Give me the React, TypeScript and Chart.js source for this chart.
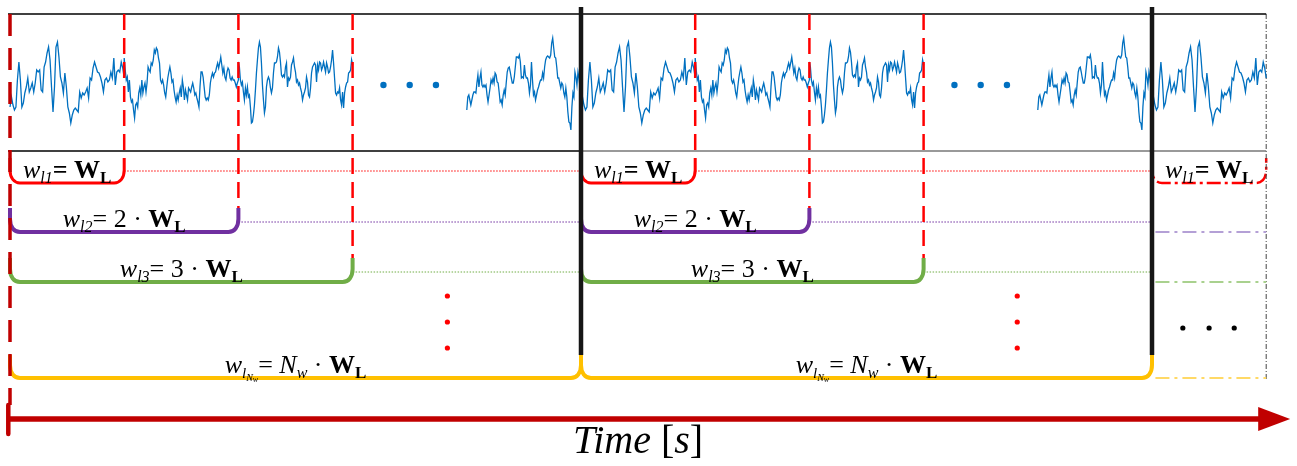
import React, { useEffect, useRef } from 'react';
import { Chart, registerables } from 'chart.js';

Chart.register(...registerables);

// ---------------- data ----------------
// Signal samples inside one analysis window (arbitrary amplitude units)
const WINDOW_1 = [-19, -9, -17, -22, -19, 8, 26, 8, -19, -15, -5, 1, 10, -4, 0, 5, -4, 5, 18, 16, 18, -2, -4, 21, 26, 35, 41, 28, 1, -24, 1, 41, 46, 31, 11, 5, -5, 15, 1, -19, -25, -35, -27, -22, -20, -22, -24, -4, -10, -5, -7, -4, 0, -10, 10, 8, 20, 26, 21, 16, 15, 11, 5, -4, 8, 10, 6, 8, 16, 10, 30, 3, 16, 18, 16, 26, 20, 10];
const WINDOW_2 = [30, 18, 8, 11, -4, 8, -9, -14, -12, -22, -30, -17, -15, -19, -5, 0, -7, 8, -5, 1, 5, -4, 5, 21, 18, 16, 25, 23, 28, 38, 35, 40, 38, 30, 25, 8, 5, 8, 3, -5, -9, 1, 10, 16, 21, 15, 6, 8, -2, -9, -14, -7, -12, -5, 0, -9, 8, 1, -12, -2, -7, -12, 0, -2, -4, 1, 5, 0, -7, -5, -10, -14, -19, 1, 16, 16, 11, 1, -9, -12, -10, -12, -7, 5, 11, 15, 11, 15, 16, 21, 25, 20, 25, 31, 23, 15, 20, 11, 8, 16, 20, 18, 10, 8, 11, 8, 8, 5, 1, 5, 8];
const WINDOW_3 = [26, 21, 8, 3, 6, -4, -12, 0, -7, 1, -9, -7, -19, -35, -34, -27, -17, -2, 15, 28, 40, 46, 41, 25, 3, -12, -25, -19, 1, 8, 11, 8, 0, -5, 0, 15, 25, 25, 26, 31, 40, 36, 26, 13, 11, 13, 11, 21, 25, 1, 10, 8, 11, 23, 26, 30, 21, 16, 6, 8, 3, 5, 0, -4, -12, -7, -4, 0, 11, 6, -7, -9, 0, 15, 21, 23, 25, 23, 6, 23, 18, 26, 25, 18, 21, 26, 21, 16, 25, 21, 15, 16, 21, 28, 38, 25, 10, -5, -7, -4, -5, 0, -12, -17, -4, -20, -5, 1, 5, 6, 15, 16, 18, 28, 23];
const WINDOW_LAST = [-22, -9, -7, -12, -17, -12, -7, -4, -4, -5, 5, 13, 1, 10, 16, 3, 1, 3, 1, 3, -7, -14, -7, 0, 8, 5, 10, 5, 15, 13, 6, 5, -4, -14, -12, -17, -7, -2, -7, 5, 16, 20, 21, 16, 10, 5, 5, 11, 21, 31, 31, 30, 33, 26, 10, 11, 10, 23, 13, 10, 10, 5, -5, 3, 26, 8, -7, -4, -12, -7, -2, 1, 5, 8, 8, 15, 10, 21, 28, 31, 32, 31, 30, 33, 45, 50, 40, 31, 30, 21, 10, 10, 5, 0, 5, 3, -5, -9, 0, -9, -24, -34, -35, -42, -19, -5, -9, 16, 11, 3, 16, 10, 1, -2];

// Time (in multiples of W_L) where each drawn signal window starts
const SEGMENT_STARTS = [0, 1, 2, 4, 5, 6, 7, 9, 10];
const SEGMENT_SIGNALS = [WINDOW_1, WINDOW_2, WINDOW_3, WINDOW_LAST, WINDOW_1, WINDOW_2, WINDOW_3, WINDOW_LAST, WINDOW_1];

const BLOCK_STARTS = [0, 5];
const N_W = 5;
const WINDOW_MULTIPLES = [1, 2, 3, N_W];
const WINDOW_SUBSCRIPTS = ['l1', 'l2', 'l3', 'lNw'];
const WINDOW_FACTORS = ['', '2', '3', 'Nw'];
const PARTIAL_START = 10;
const TIME_END = 11;
const SIGNAL_SKIP_DOTS = [3.27, 3.5, 3.73, 8.27, 8.5, 8.73];
const MORE_WINDOWS_DOTS = [3.83, 8.82];
const MORE_BLOCKS_DOTS = [10.27, 10.5, 10.72];
const AXIS_LABEL = 'Time';
const AXIS_UNIT = 's';

// ---------------- layout / style ----------------
const WIDTH = 1297;
const HEIGHT = 466;
const PX_ORIGIN = 10;
const PX_PER_WINDOW = 114.2;
const X_MIN = -PX_ORIGIN / PX_PER_WINDOW;
const X_MAX = (WIDTH - PX_ORIGIN) / PX_PER_WINDOW;
const SIGNAL_MID_ROW = 88;

const ROWS = {
  frameTop: 14,
  frameBottom: 151,
  barTop: 7,
  dots: 85,
  bracketTop: [158, 208, 258, 355],
  bracketBottom: [183, 232, 282, 378],
  guide: [171, 222, 272],
  vDots: [296, 322, 348],
  hDots: 328,
  arrow: 419,
  tickTop: 405,
  tickBottom: 434,
  label: 453,
  borderBottom: 380,
};
const ARROW = { start: -0.015, shaftEnd: 10.95, base: 10.93, tip: 11.21, half: 12 };
const COLORS = ['#FF0000', '#7030A0', '#70AD47', '#FFC000'];
const LIGHT = ['#FF0000', '#B4A0D6', '#A9D18E', '#FFD966'];
const WIDTHS = [3, 4, 4, 4];
const DARK_RED = '#C00000';
const SERIF = '"Liberation Serif", "Times New Roman", serif';
const it = (s: number) => `italic ${s}px ${SERIF}`;
const rg = (s: number) => `${s}px ${SERIF}`;
const bd = (s: number) => `bold ${s}px ${SERIF}`;

type Run = { t: string; f: string; dy?: number; w?: number };

function seg(x0: number, y0: number, x1: number, y1: number, color: string, width: number, dash: number[] = [], order = 1, cap: CanvasLineCap = 'butt') {
  return {
    type: 'line' as const,
    data: [{ x: x0, y: y0 }, { x: x1, y: y1 }],
    yAxisID: 'yRow',
    borderColor: color,
    borderWidth: width,
    borderDash: dash,
    borderCapStyle: cap,
    pointRadius: 0,
    fill: false,
    tension: 0,
    order,
    clip: false as any,
  };
}

function dots(ts: number[], rows: number[], color: string, r: number, order = 2) {
  const data: { x: number; y: number }[] = [];
  ts.forEach((t) => rows.forEach((y) => data.push({ x: t, y })));
  return {
    type: 'line' as const,
    data,
    yAxisID: 'yRow',
    showLine: false,
    pointRadius: r,
    pointBackgroundColor: color,
    pointBorderColor: color,
    pointBorderWidth: 0,
    order,
  };
}

function labelRuns(idx: number): Run[] {
  const sub = WINDOW_SUBSCRIPTS[idx];
  const factor = WINDOW_FACTORS[idx];
  const runs: Run[] = [{ t: 'w', f: it(26) }];
  if (sub === 'lNw') {
    runs.push({ t: 'l', f: it(15), dy: 5 }, { t: 'N', f: it(10), dy: 8 }, { t: 'w', f: it(8), dy: 9 });
  } else {
    runs.push({ t: sub, f: it(16), dy: 5 });
  }
  runs.push({ t: '=', f: idx === 0 ? bd(26) : rg(26) }, { t: ' ', f: rg(26) });
  if (factor === 'Nw') {
    runs.push({ t: 'N', f: it(26) }, { t: 'w', f: it(16), dy: 5 }, { t: ' · ', f: rg(26) });
  } else if (factor) {
    runs.push({ t: factor + ' · ', f: rg(26) });
  }
  runs.push({ t: 'W', f: bd(26) }, { t: 'L', f: bd(17), dy: 5 });
  return runs;
}

function drawRuns(ctx: CanvasRenderingContext2D, runs: Run[], cx: number, baseline: number, color: string) {
  let total = 0;
  runs.forEach((r) => {
    ctx.font = r.f;
    r.w = ctx.measureText(r.t).width;
    total += r.w;
  });
  let x = cx - total / 2;
  ctx.fillStyle = color;
  ctx.textAlign = 'left';
  ctx.textBaseline = 'alphabetic';
  runs.forEach((r) => {
    ctx.font = r.f;
    ctx.fillText(r.t, x, baseline + (r.dy || 0));
    x += r.w || 0;
  });
}

function drawBracket(ctx: CanvasRenderingContext2D, x0: number, x1: number, top: number, bottom: number, color: string, width: number, dash: number[]) {
  const rx = 10;
  const ry = 13;
  ctx.beginPath();
  ctx.moveTo(x0, top);
  ctx.lineTo(x0, bottom - ry);
  ctx.bezierCurveTo(x0, bottom - ry * 0.4, x0 + rx * 0.4, bottom, x0 + rx, bottom);
  ctx.lineTo(x1 - rx, bottom);
  ctx.bezierCurveTo(x1 - rx * 0.4, bottom, x1, bottom - ry * 0.4, x1, bottom - ry);
  ctx.lineTo(x1, top);
  ctx.strokeStyle = color;
  ctx.lineWidth = width;
  ctx.setLineDash(dash);
  ctx.lineJoin = 'round';
  ctx.lineCap = 'butt';
  ctx.stroke();
  ctx.setLineDash([]);
}

type Bracket = { t0: number; t1: number; idx: number; dash: number[] };
const BRACKETS: Bracket[] = [];
BLOCK_STARTS.forEach((b) => WINDOW_MULTIPLES.forEach((k, idx) => BRACKETS.push({ t0: b, t1: b + k, idx, dash: [] })));
BRACKETS.push({ t0: PARTIAL_START, t1: TIME_END, idx: 0, dash: [14, 4, 3, 4] });

const overlay = {
  id: 'diagramOverlay',
  beforeDatasetsDraw(chart: any) {
    const ctx: CanvasRenderingContext2D = chart.ctx;
    const X = (t: number) => chart.scales.x.getPixelForValue(t);
    const Y = (r: number) => chart.scales.yRow.getPixelForValue(r);
    ctx.save();
    BRACKETS.forEach((b) => {
      drawBracket(ctx, X(b.t0), X(b.t1), Y(ROWS.bracketTop[b.idx]), Y(ROWS.bracketBottom[b.idx]), COLORS[b.idx], b.dash.length ? 2.5 : WIDTHS[b.idx], b.dash);
    });
    ctx.restore();
  },
  afterDatasetsDraw(chart: any) {
    const ctx: CanvasRenderingContext2D = chart.ctx;
    const X = (t: number) => chart.scales.x.getPixelForValue(t);
    const Y = (r: number) => chart.scales.yRow.getPixelForValue(r);
    ctx.save();
    BRACKETS.forEach((b) => {
      drawRuns(ctx, labelRuns(b.idx), X((b.t0 + b.t1) / 2), Y(ROWS.bracketBottom[b.idx] - 5), '#000');
    });
    // arrow head
    ctx.beginPath();
    ctx.moveTo(X(ARROW.tip), Y(ROWS.arrow));
    ctx.lineTo(X(ARROW.base), Y(ROWS.arrow) - ARROW.half);
    ctx.lineTo(X(ARROW.base), Y(ROWS.arrow) + ARROW.half);
    ctx.closePath();
    ctx.fillStyle = DARK_RED;
    ctx.fill();
    // axis label
    const runs: Run[] = [
      { t: AXIS_LABEL, f: it(40) },
      { t: ' ', f: rg(40) },
      { t: '[', f: rg(40) },
      { t: AXIS_UNIT, f: it(40) },
      { t: ']', f: rg(40) },
    ];
    drawRuns(ctx, runs, X((BLOCK_STARTS[1] + PARTIAL_START - BLOCK_STARTS[1] + 1) / 2), Y(ROWS.label), '#000');
    ctx.restore();
  },
};

function buildDatasets() {
  const signal: { x: number; y: number | null }[] = [];
  SEGMENT_STARTS.forEach((s, i) => {
    const w = SEGMENT_SIGNALS[i];
    if (i > 0 && SEGMENT_STARTS[i - 1] + 1 < s) signal.push({ x: s - 0.5, y: null });
    w.forEach((v, j) => signal.push({ x: s + j / (w.length - 1), y: v }));
  });

  const ds: any[] = [];
  // frame lines
  ds.push(seg(-0.0175, ROWS.frameTop, TIME_END, ROWS.frameTop, '#000', 1.5, [], 8));
  ds.push(seg(-0.0175, ROWS.frameBottom, BLOCK_STARTS[1], ROWS.frameBottom, '#000', 1.5, [], 8));
  ds.push(seg(BLOCK_STARTS[1], ROWS.frameBottom, TIME_END, ROWS.frameBottom, '#777', 1.5, [], 8));
  ds.push(seg(TIME_END, ROWS.frameTop, TIME_END, ROWS.borderBottom, '#444', 1, [5, 2, 1, 2], 8));

  // signal
  ds.push({
    type: 'line',
    data: signal,
    yAxisID: 'ySig',
    borderColor: '#0070C0',
    borderWidth: 1.3,
    pointRadius: 0,
    tension: 0,
    fill: false,
    spanGaps: false,
    order: 5,
  });
  ds.push(dots(SIGNAL_SKIP_DOTS, [ROWS.dots], '#0070C0', 3.2, 4));

  // window boundaries
  ds.push(seg(0, ROWS.frameTop, 0, ROWS.tickTop, DARK_RED, 3.5, [22, 12], 1));
  BLOCK_STARTS.forEach((b) => {
    WINDOW_MULTIPLES.forEach((k, idx) => {
      if (k < N_W) {
        ds.push(seg(b + k, ROWS.frameTop, b + k, ROWS.bracketTop[idx], '#FF0000', 2.5, [16, 8], 1));
        ds.push(seg(b + k, ROWS.guide[idx], b + N_W, ROWS.guide[idx], COLORS[idx], 1, [1.5, 1.5], 7));
      }
    });
    ds.push(seg(b + N_W, ROWS.barTop, b + N_W, ROWS.bracketTop[3], '#161616', 4.5, [], 0));
  });
  // partial block
  WINDOW_MULTIPLES.forEach((k, idx) => {
    if (idx > 0) ds.push(seg(PARTIAL_START + 0.03, ROWS.bracketBottom[idx], TIME_END, ROWS.bracketBottom[idx], LIGHT[idx], 1.8, [14, 5, 3, 5], 7));
  });

  // ellipses
  ds.push(dots(MORE_WINDOWS_DOTS, ROWS.vDots, '#FF0000', 2.6, 2));
  ds.push(dots(MORE_BLOCKS_DOTS, [ROWS.hDots], '#000', 2.6, 2));

  // time axis arrow
  ds.push(seg(ARROW.start, ROWS.arrow, ARROW.shaftEnd, ROWS.arrow, DARK_RED, 5.5, [], 1));
  ds.push(seg(ARROW.start, ROWS.tickTop, ARROW.start, ROWS.tickBottom, DARK_RED, 4.5, [], 1, 'round'));
  return ds;
}

export default function App() {
  const ref = useRef<HTMLCanvasElement>(null);
  useEffect(() => {
    if (!ref.current) return;
    const chart = new Chart(ref.current, {
      type: 'line',
      data: { datasets: buildDatasets() },
      options: {
        animation: false,
        responsive: true,
        maintainAspectRatio: false,
        events: [],
        layout: { padding: 0, autoPadding: false },
        plugins: { legend: { display: false }, tooltip: { enabled: false } },
        scales: {
          x: { type: 'linear', min: X_MIN, max: X_MAX, display: false },
          yRow: { type: 'linear', min: 0, max: HEIGHT, reverse: true, display: false },
          ySig: { type: 'linear', min: SIGNAL_MID_ROW - HEIGHT, max: SIGNAL_MID_ROW, display: false },
        },
      },
      plugins: [overlay],
    } as any);
    return () => chart.destroy();
  }, []);
  return (
    <div style={{ position: 'fixed', left: 0, top: 0, width: WIDTH, height: HEIGHT, background: '#fff' }}>
      <canvas ref={ref} />
    </div>
  );
}
